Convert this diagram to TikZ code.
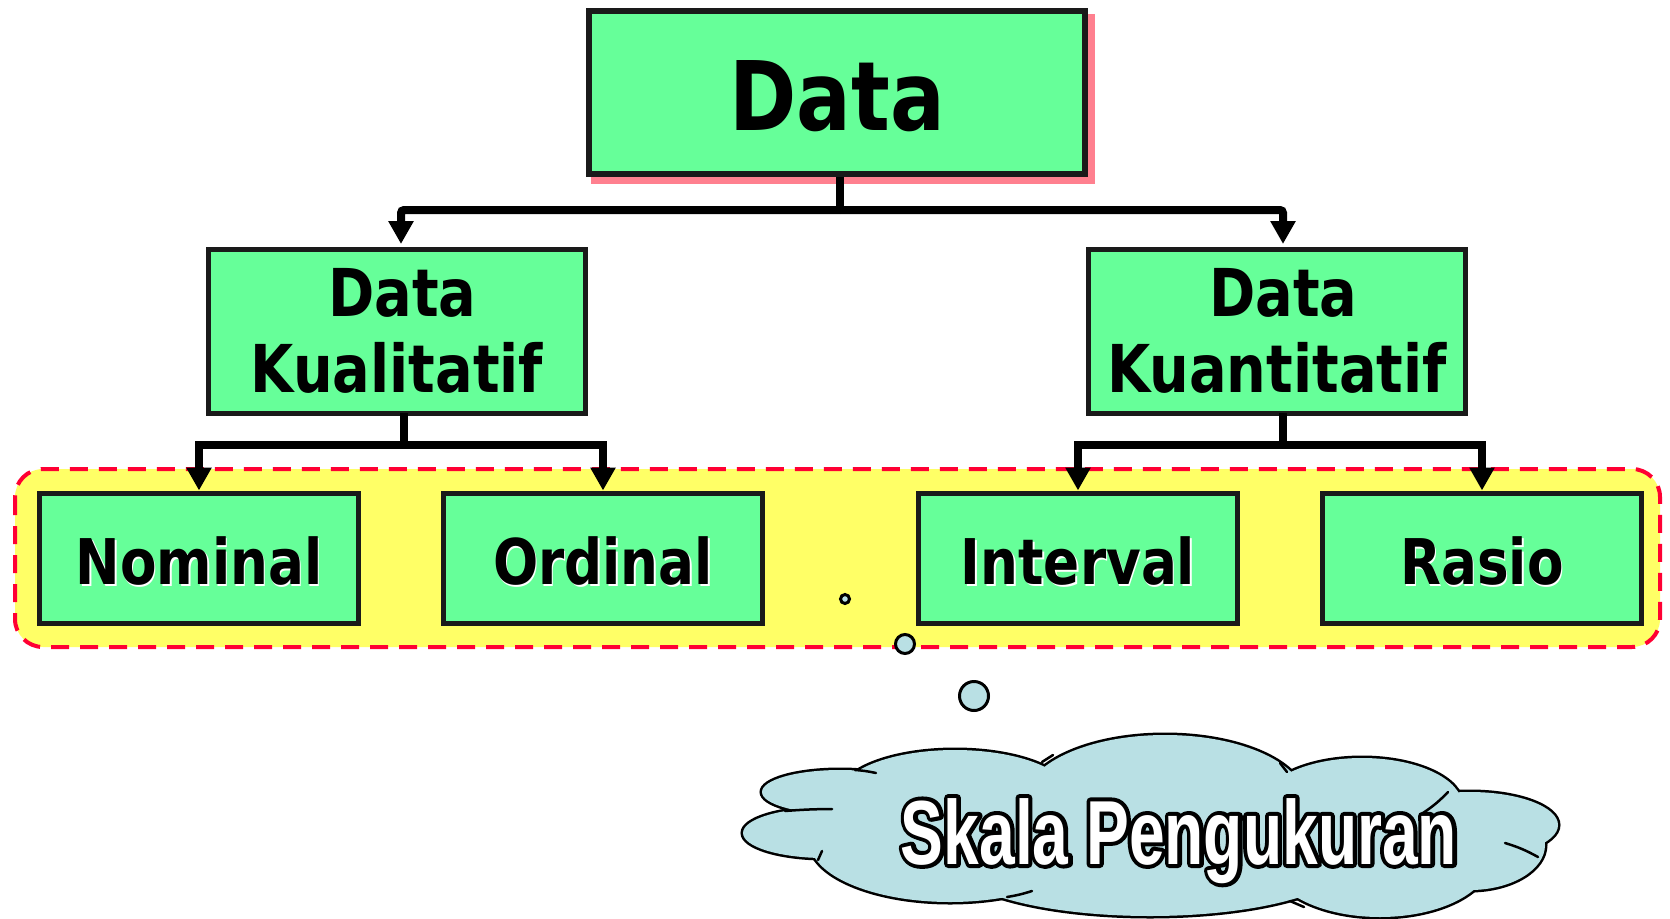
\documentclass[tikz,border=0pt]{standalone}
\usepackage{fontspec}
\setmainfont{DejaVu Sans}
\newfontfamily\boxfont[FakeStretch=0.845]{DejaVu Sans}
\newfontfamily\cloudfont[FakeStretch=0.705]{Liberation Sans}
\usetikzlibrary{arrows.meta,backgrounds}
\definecolor{boxgreen}{HTML}{66FF99}
\definecolor{boxline}{HTML}{1A1A1A}
\definecolor{shadowpink}{HTML}{FF808F}
\definecolor{zoneyellow}{HTML}{FFFF66}
\definecolor{zonered}{HTML}{FF0033}
\definecolor{cloudblue}{HTML}{B9E0E4}
\newcommand\glowtext[1]{\makebox[0pt][l]{\hspace{1.5pt}\raisebox{-1.5pt}{\textcolor{white}{#1}}}#1}
\newcommand\outlinetxt[1]{\makebox[0pt][l]{\special{pdf:literal direct 0 0 0 RG 8 w 1 j 2 Tr}#1\special{pdf:literal direct 0 Tr}}#1}
\begin{document}
\begin{tikzpicture}[x=1pt,y=-1pt,
  box/.style={draw=boxline, fill=boxgreen, inner sep=0pt, align=center},
  topbox/.style={box, line width=6pt, minimum width=496pt, minimum height=163pt,
    text height=78pt, font=\boxfont\bfseries\fontsize{96}{110}\selectfont},
  midbox/.style={box, line width=5pt, minimum width=377pt, minimum height=164pt,
    font=\boxfont\bfseries\fontsize{66}{76}\selectfont},
  lowbox/.style={box, line width=5pt, minimum width=319pt, minimum height=130pt,
    text height=56pt, font=\boxfont\bfseries\fontsize{63}{70}\selectfont},
  conn/.style={line width=8pt, draw=black},
  tip/.style={-{Triangle[width=24pt,length=23pt]}},
  bubble/.style={circle, draw=black, line width=3pt, fill=cloudblue, inner sep=0pt},
  cloudtxt/.style={anchor=base, inner sep=0pt, font=\cloudfont\bfseries\fontsize{91}{100}\selectfont},
  crease/.style={line width=2.5pt, draw=black, line cap=round},
]
\useasboundingbox (0,0) rectangle (1670,918);

% boxes
\node[topbox] (data) at (837,92.5) {Data};
\node[midbox] (kual) at (397,331) {\hspace*{11pt}Data\\Kualitatif};
\node[midbox] (kuan) at (1277,331) {\hspace*{13pt}Data\\Kuantitatif};
\node[lowbox] (nom) at (199,558) {\glowtext{Nominal}};
\node[lowbox] (ord) at (603,558) {\glowtext{Ordinal}};
\node[lowbox] (int) at (1078,558) {\glowtext{Interval}};
\node[lowbox] (ras) at (1482,558) {\glowtext{Rasio}};

% connectors
\draw[conn] ([xshift=3pt]data.south) -- ++(0,33) coordinate (j1);
\draw[conn,tip,rounded corners=3pt] (j1) -| ([xshift=4pt,yshift=2.5pt]kual.north);
\draw[conn,tip,rounded corners=3pt] (j1) -| ([xshift=6pt,yshift=2.5pt]kuan.north);
\draw[conn] ([xshift=7pt,yshift=2.5pt]kual.south) -- ++(0,32) coordinate (j2);
\draw[conn,tip] (j2) -| (nom.north);
\draw[conn,tip] (j2) -| (ord.north);
\draw[conn] ([xshift=6pt,yshift=2.5pt]kuan.south) -- ++(0,32) coordinate (j3);
\draw[conn,tip] (j3) -| (int.north);
\draw[conn,tip] (j3) -| (ras.north);

% background: shadow and dashed zone
\begin{scope}[on background layer]
  \fill[shadowpink] (591,14) rectangle (1095,184);
  \draw[zonered, fill=zoneyellow, line width=4pt, dash pattern=on 18pt off 11pt,
        rounded corners=28pt] (15,469) rectangle (1660,647);
\end{scope}

% cloud
\def\lobes{840/792/78/22, 825/833/82/25, 950/842/140/60, 1150/860/200/56,
  1380/860/110/57, 1470/845/75/45, 1470/825/88/33, 1362/805/100/47,
  1165/800/140/65, 955/795/115/45}
\foreach \cx/\cy/\rx/\ry in \lobes
  \draw[black, line width=5pt] (\cx,\cy) ellipse [x radius=\rx pt, y radius=\ry pt];
\foreach \cx/\cy/\rx/\ry in \lobes
  \fill[cloudblue] (\cx,\cy) ellipse [x radius=\rx pt, y radius=\ry pt];
\fill[cloudblue] (1150,830) ellipse [x radius=320pt, y radius=55pt];
\draw[crease] (855,770) to[bend left=4] (876,773);
\draw[crease] (785,811) to[bend left=2] (832,809);
\draw[crease] (818,860) -- (822,851);
\draw[crease] (1007,897) to[bend right=4] (1032,891);
\draw[crease] (1290,901) -- (1304,907);
\draw[crease] (1505,843) to[bend left=6] (1538,857);
\draw[crease] (1448,792) to[bend left=6] (1423,813);
\draw[crease] (1287,772) -- (1280,763);
\draw[crease] (1042,762) -- (1053,755);

% thought bubbles
\node[bubble, minimum size=9pt] (b1) at (845,599) {};
\node[bubble, minimum size=19pt] (b2) at (905,644) {};
\node[bubble, minimum size=29pt] (b3) at (974,696) {};

% cloud text (white, outlined in black)
\node[cloudtxt, text=white] (skala) at (1179,864) {\outlinetxt{Skala Pengukuran}};
\end{tikzpicture}
\end{document}
